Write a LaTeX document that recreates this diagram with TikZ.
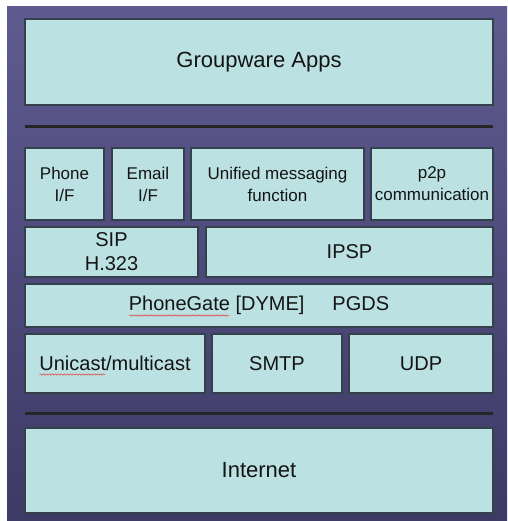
\documentclass[tikz,border=0pt]{standalone}
\usepackage{fontspec}
\setmainfont{Liberation Sans}
\usetikzlibrary{shadows,decorations.pathmorphing}
\definecolor{bgtop}{HTML}{5F5B90}
\definecolor{bgbot}{HTML}{3D3A66}
\definecolor{boxfill}{HTML}{BCE1E3}
\definecolor{boxline}{HTML}{34404A}
\definecolor{txt}{HTML}{141414}
\definecolor{sq}{HTML}{E04040}
\tikzset{
  layer/.style={draw=boxline, line width=1.3pt, fill=boxfill, inner sep=0pt, outer sep=0pt,
    anchor=north west, text=txt, align=center,
    drop shadow={shadow xshift=1.2pt, shadow yshift=-1.2pt, opacity=0.55, fill=black}},
  bigtxt/.style={font=\fontsize{22}{26}\selectfont},
  midtxt/.style={font=\fontsize{20}{24}\selectfont},
  smalltxt/.style={font=\fontsize{17}{22}\selectfont},
  sep/.style={line width=3pt, draw=black!85},
  squiggle/.style={draw=sq, line width=0.5pt, decorate, decoration={snake, amplitude=0.7pt, segment length=3pt}}
}
\begin{document}
\begin{tikzpicture}[x=1pt,y=-1pt]
\useasboundingbox (0,0) rectangle (507,521);
\shade[top color=bgtop, bottom color=bgbot] (7,7) rectangle (507,521);
% top
\node[layer, bigtxt, minimum width=468pt, minimum height=86pt] (apps) at (25,19) {Groupware Apps};
\coordinate (s1a) at (25,127); \coordinate (s1b) at (493,127);
\draw[sep] (s1a) -- (s1b);
% row 1
\node[layer, smalltxt, minimum width=79pt, minimum height=72pt] (phone) at (25,148) {Phone\\I/F};
\node[layer, smalltxt, minimum width=72pt, minimum height=72pt] (email) at (112,148) {Email\\I/F};
\node[layer, smalltxt, minimum width=173pt, minimum height=72pt] (ums) at (191,148) {Unified messaging\\function};
\node[layer, smalltxt, minimum width=122pt, minimum height=72pt] (p2p) at (371,148) {p2p\\communication};
% row 2
\node[layer, midtxt, minimum width=173pt, minimum height=50pt] (sip) at (25,227) {SIP\\H.323};
\node[layer, midtxt, minimum width=287pt, minimum height=50pt] (ipsp) at (206,227) {IPSP};
% row 3
\node[layer, midtxt, minimum width=468pt, minimum height=43pt] (pg) at (25,284) {PhoneGate [DYME]\hspace{28pt}PGDS};
% row 4
\node[layer, midtxt, minimum width=180pt, minimum height=59pt] (uni) at (25,334) {Unicast/multicast};
\node[layer, midtxt, minimum width=130pt, minimum height=59pt] (smtp) at (212,334) {SMTP};
\node[layer, midtxt, minimum width=144pt, minimum height=59pt] (udp) at (349,334) {UDP};
\coordinate (s2a) at (25,413); \coordinate (s2b) at (493,413);
\draw[sep] (s2a) -- (s2b);
% bottom
\node[layer, bigtxt, minimum width=468pt, minimum height=85pt] (net) at (25,428) {Internet};
% spell-check squiggles
\coordinate (q1a) at (129,315.5); \coordinate (q1b) at (229,315.5);
\draw[squiggle] (q1a) -- (q1b);
\coordinate (q2a) at (39.5,374.5); \coordinate (q2b) at (105,374.5);
\draw[squiggle] (q2a) -- (q2b);
\end{tikzpicture}
\end{document}
